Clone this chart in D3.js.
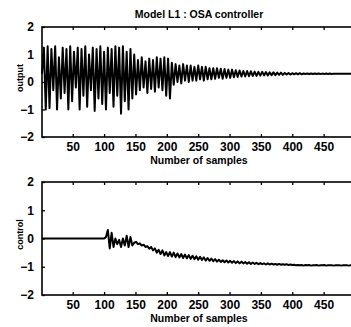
<!DOCTYPE html>
<html>
<head>
<meta charset="utf-8">
<script src="https://cdn.jsdelivr.net/npm/d3@7"></script>
<style>
  body { margin: 0; background: #fff; }
  text { font-family: "Liberation Sans", Arial, sans-serif; font-weight: bold; fill: #000; }
</style>
</head>
<body>
<div id="chart"></div>
<script>
// samples are taken every 3rd step, starting at sample 1
const sampleStep = 3;
const xTicks = [50, 100, 150, 200, 250, 300, 350, 400, 450];
const yTicks = [-2, -1, 0, 1, 2];

const outputValues = [
  0.3, 1.25, -1.0, 1.3, -0.95, 1.2, -0.3, 1.3, -1.0, 0.9, -0.6, 1.25, -0.4, 1.2, -1.0, 1.3, -0.7, 1.1, -0.2, 1.25,
  -1.0, 1.2, -0.5, 1.3, -0.9, 1.0, -0.3, 1.25, -1.05, 1.2, -0.6, 1.3, -0.8, 1.1, -1.0, 1.25, -0.4, 1.2, -0.9, 1.3,
  -0.5, 1.25, -1.15, 1.3, -0.7, 1.1, -1.0, 1.2, -0.6, 1.0,
  -0.45, 0.8, -0.3, 0.9, -0.2, 0.75, -0.4, 0.85, -0.25, 0.8, -0.35, 0.9, -0.2, 0.85, -0.3, 0.9, -0.5, 0.85, -0.6, 0.7,
  -0.1, 0.65, 0.0, 0.6, -0.05, 0.65, 0.05, 0.6, 0.0, 0.6, 0.05, 0.55, 0.05, 0.6, 0.1, 0.55, 0.05, 0.55, 0.1, 0.5,
  0.1, 0.5, 0.12, 0.5, 0.15, 0.48, 0.12, 0.47, 0.15, 0.45,
  0.15, 0.45, 0.17, 0.43, 0.18, 0.42, 0.2, 0.4, 0.2, 0.4, 0.21, 0.39, 0.22, 0.38, 0.22, 0.37, 0.23, 0.37, 0.24, 0.36,
  0.24, 0.35, 0.25, 0.35, 0.25, 0.34, 0.26, 0.34, 0.26, 0.33, 0.27, 0.33, 0.27,
  0.32, 0.28, 0.32, 0.28, 0.32, 0.28, 0.31, 0.29, 0.31, 0.29, 0.31, 0.29, 0.31, 0.29, 0.31, 0.29, 0.305, 0.295, 0.305, 0.295,
  0.305, 0.295, 0.3, 0.3, 0.3, 0.3, 0.3, 0.3, 0.3, 0.3, 0.3, 0.3, 0.3, 0.3,
];

const controlValues = [
  0, 0, 0, 0, 0, 0, 0, 0, 0, 0, 0, 0, 0, 0, 0, 0, 0, 0, 0, 0,
  0, 0, 0, 0, 0, 0, 0, 0, 0, 0, 0, 0, 0, 0,
  0.05, 0.3, -0.35, 0.2, -0.3, 0.0, -0.2, -0.05, -0.3, 0.0, -0.25, 0.1, -0.3, 0.05, -0.25, -0.15,
  -0.12, -0.2, -0.17, -0.25, -0.22, -0.3, -0.27, -0.36, -0.3, -0.42, -0.35, -0.5, -0.4, -0.55, -0.42, -0.6, -0.48,
  -0.62, -0.48, -0.64, -0.5, -0.66, -0.53, -0.67, -0.55, -0.69, -0.57, -0.7, -0.59, -0.72, -0.61, -0.73, -0.63, -0.75,
  -0.65, -0.76, -0.67, -0.78, -0.69, -0.79, -0.71, -0.8, -0.73, -0.82, -0.75, -0.83, -0.77, -0.84, -0.78, -0.85,
  -0.79, -0.86, -0.8, -0.87, -0.81, -0.88, -0.82, -0.88, -0.83, -0.89, -0.84, -0.9, -0.85, -0.9, -0.86, -0.91, -0.87,
  -0.91, -0.88, -0.92, -0.88, -0.92, -0.89, -0.92, -0.9, -0.93, -0.9, -0.93, -0.91, -0.93, -0.91, -0.94, -0.92, -0.94,
  -0.93, -0.95, -0.94, -0.95, -0.94, -0.96, -0.94, -0.95, -0.94, -0.96, -0.95, -0.95, -0.94, -0.96, -0.95, -0.95, -0.94,
  -0.96, -0.95, -0.95, -0.95, -0.96, -0.95, -0.95, -0.95, -0.96, -0.95, -0.95, -0.95, -0.96, -0.95, -0.95, -0.95,
];

const width = 351;
const height = 327;

const svg = d3.select('#chart').append('svg')
  .attr('width', width)
  .attr('height', height);

const x = d3.scaleLinear().domain([1, 500]).range([42, 355]);

const drawPanel = function drawPanel(values, label, top, bottom, lineWidth) {
  const y = d3.scaleLinear().domain([-2, 2]).range([bottom, top]);
  const g = svg.append('g');
  const line = d3.line()
    .x((d, i) => x(i * sampleStep + 1))
    .y(d => y(d));

  g.append('path')
    .datum(values)
    .attr('d', line)
    .attr('fill', 'none')
    .attr('stroke', '#000')
    .attr('stroke-width', lineWidth)
    .attr('stroke-linejoin', 'round');

  // inward ticks, matlab style
  g.append('g')
    .attr('transform', `translate(0,${bottom})`)
    .call(d3.axisBottom(x).tickValues(xTicks).tickSizeInner(-3).tickSizeOuter(0).tickPadding(5))
    .call(a => a.select('.domain').remove());
  g.append('g')
    .attr('transform', `translate(0,${top})`)
    .call(d3.axisTop(x).tickValues(xTicks).tickSizeInner(-3).tickSizeOuter(0).tickFormat(''))
    .call(a => a.select('.domain').remove());
  g.append('g')
    .attr('transform', `translate(${x(1)},0)`)
    .call(d3.axisLeft(y).tickValues(yTicks).tickFormat(d3.format('d')).tickSizeInner(-3).tickSizeOuter(0).tickPadding(8))
    .call(a => a.select('.domain').remove());

  g.selectAll('.tick text')
    .attr('font-size', 12)
    .attr('font-family', '"Liberation Sans", Arial, sans-serif')
    .attr('font-weight', 'bold');
  g.selectAll('.tick line').attr('stroke-width', 1.3);

  g.append('rect')
    .attr('x', x(1))
    .attr('y', top)
    .attr('width', x(500) - x(1))
    .attr('height', bottom - top)
    .attr('fill', 'none')
    .attr('stroke', '#000')
    .attr('stroke-width', 1.6);

  g.append('text')
    .attr('x', 199)
    .attr('y', bottom + 27)
    .attr('text-anchor', 'middle')
    .attr('font-size', 10.5)
    .text('Number of samples');

  g.append('text')
    .attr('transform', `translate(23,${(top + bottom) / 2 - 4}) rotate(-90)`)
    .attr('text-anchor', 'middle')
    .attr('font-size', 9)
    .text(label);
};

svg.append('text')
  .attr('x', 199)
  .attr('y', 18)
  .attr('text-anchor', 'middle')
  .attr('font-size', 10.5)
  .text('Model L1 : OSA controller');

drawPanel(outputValues, 'output', 27, 137, 2);
drawPanel(controlValues, 'control', 182, 295, 2);
</script>
</body>
</html>
